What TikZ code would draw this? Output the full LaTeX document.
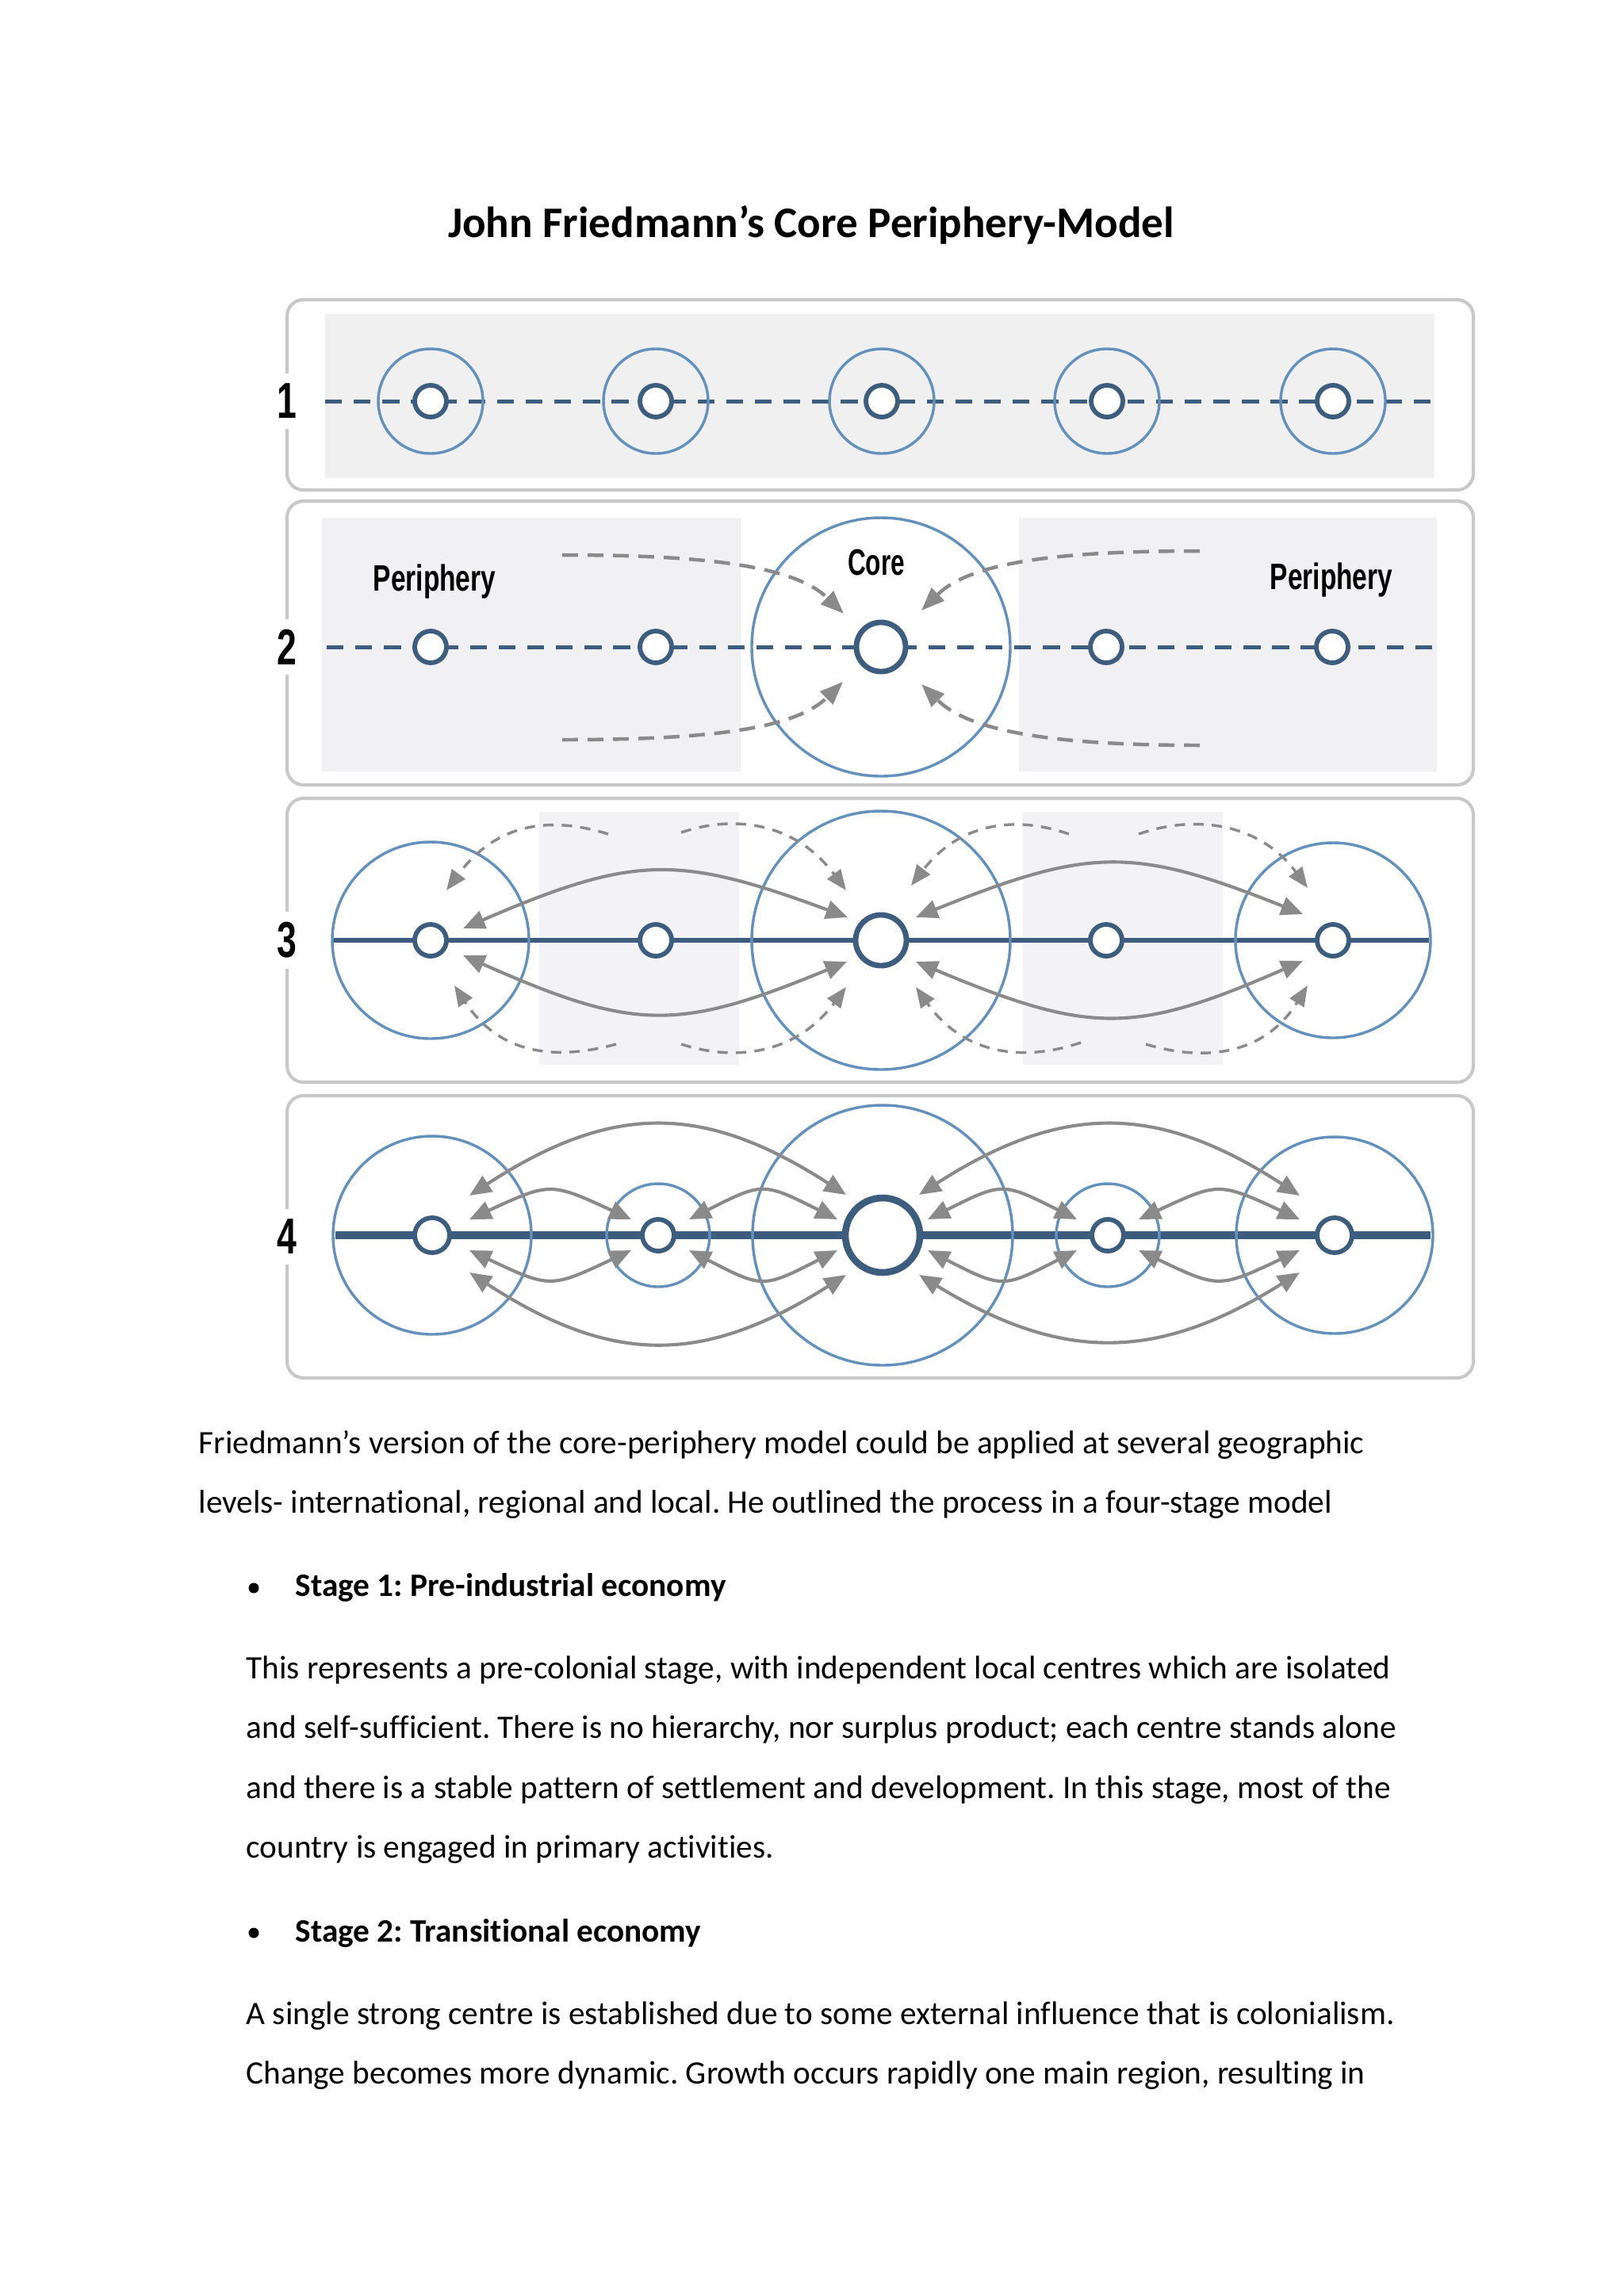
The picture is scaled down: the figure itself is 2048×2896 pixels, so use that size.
\documentclass[tikz,border=0pt]{standalone}
\usepackage{fontspec}
\setmainfont{Carlito}[Ligatures=CommonOff]
\newfontfamily\condfont{Liberation Sans}
\usepackage{graphicx}
\usetikzlibrary{arrows.meta}
\definecolor{dkblue}{HTML}{3C5D7E}
\definecolor{ltblue}{HTML}{6391BB}
\definecolor{arrgray}{HTML}{8A8A8A}
\definecolor{boxgray}{HTML}{C8C8C8}
\definecolor{bgone}{HTML}{F0F0F0}
\definecolor{bgtwo}{HTML}{F1F1F3}
\definecolor{bgthree}{HTML}{F3F2F5}
\newcommand\pxu{0.29062pt}
\frenchspacing
\begin{document}
\begin{tikzpicture}[x=0.29062pt,y=-0.29062pt,
  hub/.style={circle,draw=dkblue,fill=white,line width=1.7pt,minimum size=#1*\pxu,inner sep=0pt},
  ring/.style={circle,draw=ltblue,line width=1pt,minimum size=#1*\pxu,inner sep=0pt},
  panel/.style={draw=boxgray,line width=1.2pt,rounded corners=6pt,fill=white},
  dline/.style={draw=dkblue,line width=1.45pt,dash pattern=on 6.2pt off 4.3pt},
  sline/.style={draw=dkblue,line width=#1},
  flow/.style={draw=arrgray,line width=1.2pt,{Triangle[length=8pt,width=6.8pt]}-{Triangle[length=8pt,width=6.8pt]}},
  bigdash/.style={draw=arrgray,line width=1.3pt,dash pattern=on 5.8pt off 3.5pt,-{Triangle[length=8.5pt,width=6.5pt]}},
  smalldash/.style={draw=arrgray,line width=1pt,dash pattern=on 3.8pt off 3pt,-{Triangle[length=7.5pt,width=6pt]}},
  lbl/.style={font=\condfont\bfseries\fontsize{13.5}{14}\selectfont,inner sep=0pt,anchor=base},
  num/.style={font=\condfont\bfseries\fontsize{18.5}{19}\selectfont,fill=white,inner xsep=2.5pt,inner ysep=3.8pt},
  body/.style={font=\fontsize{12}{14}\selectfont,inner sep=0pt,anchor=base west},
  bodyb/.style={font=\bfseries\fontsize{12}{14}\selectfont,inner sep=0pt,anchor=base west},
]
\useasboundingbox (0,0) rectangle (2048,2896);
\fill[white] (0,0) rectangle (2048,2896);

% title
\node[font=\bfseries\fontsize{16}{19}\selectfont,inner sep=0pt,anchor=base] (title) at (1023,299) {John Friedmann’s Core Periphery-Model};

% ---------- panel 1
\draw[panel] (362,378) rectangle (1858,618);
\fill[bgone] (410,396) rectangle (1809,603);
\coordinate (d1l) at (410,506); \coordinate (d1r) at (1809,506);
\draw[dline] (d1l) -- (d1r);
\foreach \i/\x in {a/543,b/827,c/1112,d/1396,e/1681}{
  \node[ring=132] (r1\i) at (\x,506) {};
  \node[hub=40] (h1\i) at (\x,506) {};
}
\node[num] (n1) at (362,506) {\scalebox{0.7}[1]{1}};

% ---------- panel 2
\draw[panel] (362,632) rectangle (1858,990);
\fill[bgtwo] (406,653) rectangle (934,973);
\fill[bgtwo] (1285,653) rectangle (1812,973);
\coordinate (d2l) at (412,816); \coordinate (d2r) at (1806,816);
\draw[dline] (d2l) -- (d2r);
\node[ring=326] (r2c) at (1111,816) {};
\foreach \i/\x in {a/543,b/827,d/1395,e/1680}{
  \node[hub=40] (h2\i) at (\x,816) {};
}
\node[hub=62,line width=2pt] (h2c) at (1111,816) {};
\node[lbl] (per2l) at (548,745) {\scalebox{0.72}[1]{Periphery}};
\node[lbl] (per2r) at (1679,743) {\scalebox{0.72}[1]{Periphery}};
\node[lbl] (core2) at (1105,725) {\scalebox{0.68}[1]{Core}};
\node[num] (n2) at (362,816) {\scalebox{0.7}[1]{2}};
\coordinate (s2a) at (709,700);  \coordinate (t2a) at (1064,774);
\coordinate (s2b) at (1513,695); \coordinate (t2b) at (1162,770);
\coordinate (s2c) at (709,933);  \coordinate (t2c) at (1063,860);
\coordinate (s2d) at (1513,940); \coordinate (t2d) at (1162,863);
\draw[bigdash] (s2a) .. controls (880,700) and (1000,712) .. (t2a);
\draw[bigdash] (s2b) .. controls (1340,695) and (1225,708) .. (t2b);
\draw[bigdash] (s2c) .. controls (880,933) and (1000,922) .. (t2c);
\draw[bigdash] (s2d) .. controls (1340,940) and (1225,925) .. (t2d);

% ---------- panel 3
\draw[panel] (362,1007) rectangle (1858,1365);
\fill[bgthree] (680,1024) rectangle (932,1343);
\fill[bgthree] (1290,1024) rectangle (1542,1343);
\coordinate (d3l) at (418,1186); \coordinate (d3r) at (1802,1186);
\draw[sline=2pt] (d3l) -- (d3r);
\node[ring=248] (r3a) at (543,1186) {};
\node[ring=326] (r3c) at (1111,1186) {};
\node[ring=246] (r3e) at (1681,1186) {};
\foreach \i/\x in {a/543,b/827,d/1395,e/1681}{
  \node[hub=40] (h3\i) at (\x,1186) {};
}
\node[hub=64,line width=2pt] (h3c) at (1111,1186) {};
\node[num] (n3) at (362,1186) {\scalebox{0.7}[1]{3}};
% solid two-way flows
\coordinate (u3a) at (584,1171); \coordinate (u3b) at (1069,1157);
\coordinate (u3c) at (1155,1157); \coordinate (u3d) at (1643,1153);
\coordinate (l3a) at (584,1205); \coordinate (l3b) at (1068,1213);
\coordinate (l3c) at (1155,1213); \coordinate (l3d) at (1643,1212);
\draw[flow] (u3a) .. controls (800,1078) and (855,1078) .. (u3b);
\draw[flow] (u3c) .. controls (1375,1068) and (1430,1068) .. (u3d);
\draw[flow] (l3a) .. controls (800,1301) and (855,1301) .. (l3b);
\draw[flow] (l3c) .. controls (1375,1305) and (1430,1305) .. (l3d);
% dashed spread arrows
\coordinate (q1s) at (767,1052);  \coordinate (q1t) at (563,1123);
\coordinate (q2s) at (777,1317);  \coordinate (q2t) at (573,1243);
\coordinate (q3s) at (859,1050);  \coordinate (q3t) at (1067,1123);
\coordinate (q4s) at (859,1317);  \coordinate (q4t) at (1067,1245);
\coordinate (q5s) at (1348,1052); \coordinate (q5t) at (1149,1117);
\coordinate (q6s) at (1363,1315); \coordinate (q6t) at (1155,1245);
\coordinate (q7s) at (1436,1052); \coordinate (q7t) at (1649,1120);
\coordinate (q8s) at (1445,1317); \coordinate (q8t) at (1649,1243);
\draw[smalldash] (q1s) .. controls (690,1028) and (625,1040) .. (q1t);
\draw[smalldash] (q2s) .. controls (700,1338) and (630,1330) .. (q2t);
\draw[smalldash] (q3s) .. controls (930,1026) and (1005,1040) .. (q3t);
\draw[smalldash] (q4s) .. controls (930,1340) and (1005,1328) .. (q4t);
\draw[smalldash] (q5s) .. controls (1280,1028) and (1210,1038) .. (q5t);
\draw[smalldash] (q6s) .. controls (1290,1340) and (1215,1330) .. (q6t);
\draw[smalldash] (q7s) .. controls (1510,1026) and (1590,1040) .. (q7t);
\draw[smalldash] (q8s) .. controls (1520,1340) and (1595,1330) .. (q8t);

% ---------- panel 4
\draw[panel] (362,1382) rectangle (1858,1738);
\coordinate (d4l) at (423,1558); \coordinate (d4r) at (1804,1558);
\draw[sline=2.9pt] (d4l) -- (d4r);
\node[ring=250] (r4a) at (545,1558) {};
\node[ring=130] (r4b) at (830,1558) {};
\node[ring=328] (r4c) at (1113,1558) {};
\node[ring=130] (r4d) at (1397,1558) {};
\node[ring=248] (r4e) at (1683,1558) {};
\node[hub=44] (h4a) at (545,1558) {};
\node[hub=40] (h4b) at (830,1558) {};
\node[hub=94,line width=2.5pt] (h4c) at (1113,1558) {};
\node[hub=40] (h4d) at (1397,1558) {};
\node[hub=44] (h4e) at (1683,1558) {};
\node[num] (n4) at (362,1560) {\scalebox{0.7}[1]{4}};
% large flows
\coordinate (g1) at (592,1508);  \coordinate (g2) at (1067,1507);
\coordinate (g3) at (592,1605);  \coordinate (g4) at (1067,1608);
\coordinate (g5) at (1159,1507); \coordinate (g6) at (1639,1508);
\coordinate (g7) at (1159,1608); \coordinate (g8) at (1639,1605);
\draw[flow] (g1) .. controls (772,1391) and (887,1391) .. (g2);
\draw[flow] (g3) .. controls (772,1722) and (887,1722) .. (g4);
\draw[flow] (g5) .. controls (1339,1391) and (1459,1391) .. (g6);
\draw[flow] (g7) .. controls (1339,1718) and (1459,1718) .. (g8);
% small flows
\coordinate (k1) at (592,1538);  \coordinate (k2) at (796,1538);
\coordinate (k3) at (869,1538);  \coordinate (k4) at (1056,1538);
\coordinate (k5) at (1170,1538); \coordinate (k6) at (1358,1538);
\coordinate (k7) at (1436,1538); \coordinate (k8) at (1639,1538);
\coordinate (m1) at (592,1577);  \coordinate (m2) at (796,1577);
\coordinate (m3) at (869,1577);  \coordinate (m4) at (1056,1577);
\coordinate (m5) at (1170,1577); \coordinate (m6) at (1358,1577);
\coordinate (m7) at (1436,1577); \coordinate (m8) at (1639,1577);
\draw[flow] (k1) .. controls (694,1491) .. (k2);
\draw[flow] (k3) .. controls (962,1491) .. (k4);
\draw[flow] (k5) .. controls (1264,1491) .. (k6);
\draw[flow] (k7) .. controls (1537,1491) .. (k8);
\draw[flow] (m1) .. controls (694,1625) .. (m2);
\draw[flow] (m3) .. controls (962,1625) .. (m4);
\draw[flow] (m5) .. controls (1264,1625) .. (m6);
\draw[flow] (m7) .. controls (1537,1625) .. (m8);

% ---------- body text
\node[body] (t1) at (250,1833) {Friedmann’s version of the core-periphery model could be applied at several geographic};
\node[body] (t2) at (250,1908) {levels- international, regional and local. He outlined the process in a four-stage model};
\fill (320,2003) circle (6.5);
\node[bodyb] (s1) at (372,2013) {Stage 1: Pre-industrial economy};
\node[body] (t3) at (310,2117) {This represents a pre-colonial stage, with independent local centres which are isolated};
\node[body] (t4) at (310,2192) {and self-sufficient. There is no hierarchy, nor surplus product; each centre stands alone};
\node[body] (t5) at (310,2268) {and there is a stable pattern of settlement and development. In this stage, most of the};
\node[body] (t6) at (310,2343) {country is engaged in primary activities.};
\fill (320,2438) circle (6.5);
\node[bodyb] (s2) at (372,2449) {Stage 2: Transitional economy};
\node[body] (t7) at (310,2553) {A single strong centre is established due to some external influence that is colonialism.};
\node[body] (t8) at (310,2628) {Change becomes more dynamic. Growth occurs rapidly one main region, resulting in};
\end{tikzpicture}
\end{document}
